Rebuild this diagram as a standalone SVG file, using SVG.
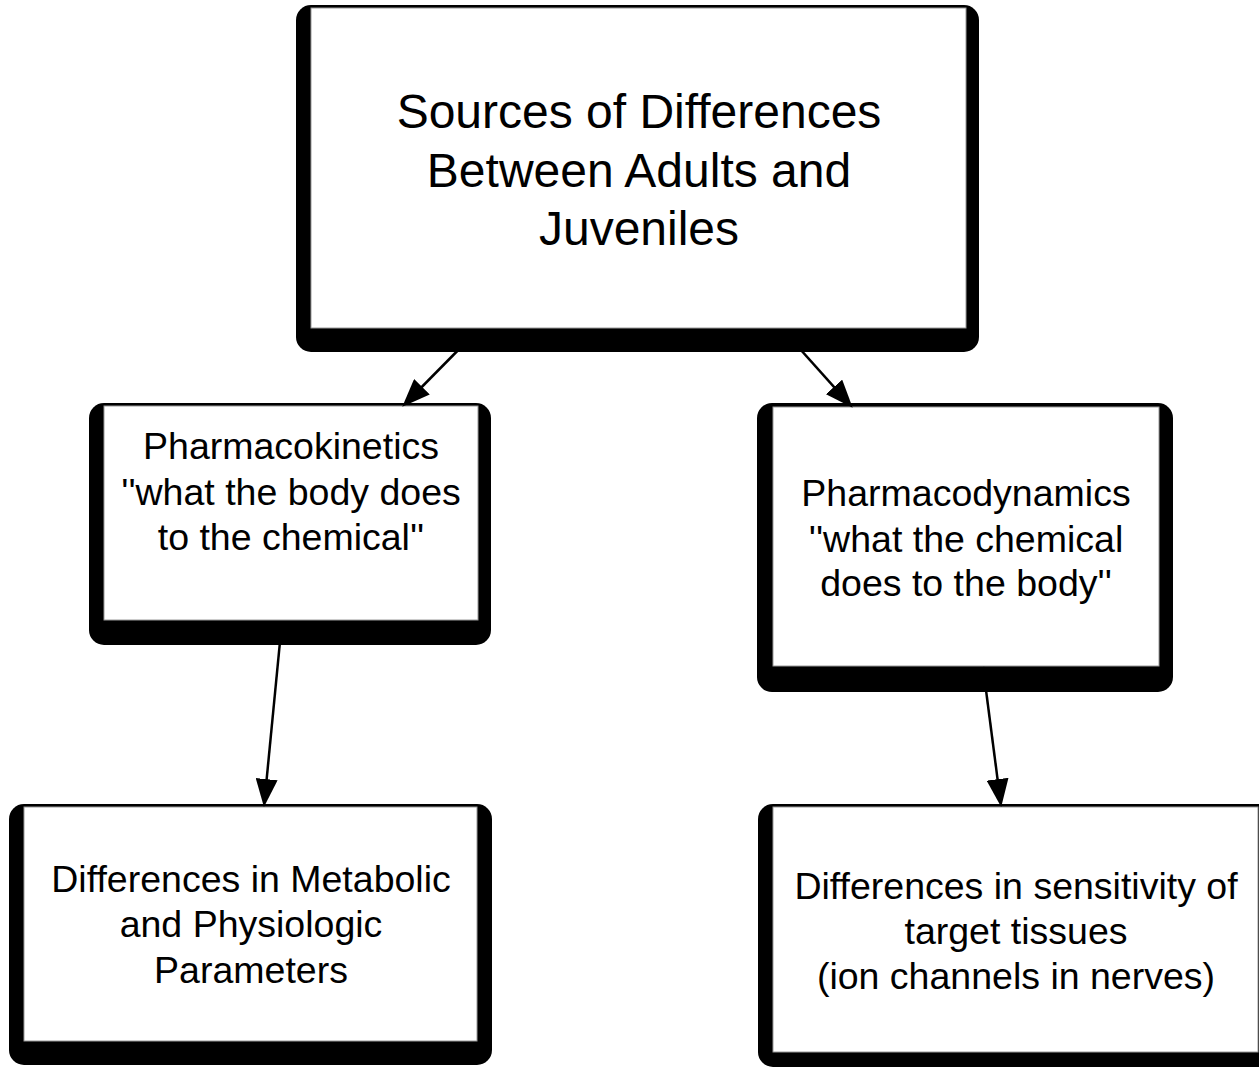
<svg xmlns="http://www.w3.org/2000/svg" width="1259" height="1069" viewBox="0 0 1259 1069">
<style>
.sh{fill:#000}
.bx{fill:#fff;stroke:#999;stroke-width:1}
.t{font-family:"Liberation Sans",Arial,sans-serif;fill:#000;text-anchor:middle}
.t1{font-size:48px}
.t2{font-size:37.5px}
.cn{stroke:#000;stroke-width:2.5;fill:none;marker-end:url(#ah)}
</style>
<defs>
<marker id="ah" markerUnits="userSpaceOnUse" markerWidth="30" markerHeight="22" refX="15" refY="11" orient="auto" viewBox="0 0 30 22">
<path d="M0,0 L28,11 L0,22 z" fill="#000"/>
</marker>
</defs>
<rect width="1259" height="1069" fill="#fff"/>
<g id="node-sources">
<rect class="sh" x="296" y="5" width="683" height="347" rx="15"/>
<rect class="bx" x="311" y="8" width="655" height="320"/>
<text class="t t1" x="639" y="128">Sources of Differences</text>
<text class="t t1" x="639" y="187">Between Adults and</text>
<text class="t t1" x="639" y="245">Juveniles</text>
</g>
<g id="node-pharmacokinetics">
<rect class="sh" x="89" y="403" width="402" height="242" rx="15"/>
<rect class="bx" x="104" y="406" width="374" height="214"/>
<text class="t t2" x="291" y="459">Pharmacokinetics</text>
<text class="t t2" x="291" y="505">''what the body does</text>
<text class="t t2" x="291" y="550">to the chemical''</text>
</g>
<g id="node-pharmacodynamics">
<rect class="sh" x="757" y="403" width="416" height="289" rx="15"/>
<rect class="bx" x="773" y="407" width="386" height="259"/>
<text class="t t2" x="966" y="506">Pharmacodynamics</text>
<text class="t t2" x="966" y="552">''what the chemical</text>
<text class="t t2" x="966" y="596">does to the body''</text>
</g>
<g id="node-metabolic">
<rect class="sh" x="9" y="804" width="483" height="261" rx="15"/>
<rect class="bx" x="24" y="807" width="453" height="234"/>
<text class="t t2" x="251" y="892">Differences in Metabolic</text>
<text class="t t2" x="251" y="937">and Physiologic</text>
<text class="t t2" x="251" y="983">Parameters</text>
</g>
<g id="node-sensitivity">
<rect class="sh" x="758" y="804" width="515" height="263" rx="15"/>
<rect class="bx" x="773" y="807" width="485" height="245"/>
<text class="t t2" x="1016" y="899">Differences in sensitivity of</text>
<text class="t t2" x="1016" y="944">target tissues</text>
<text class="t t2" x="1016" y="989">(ion channels in nerves)</text>
</g>
<g id="connectors">
<line class="cn" x1="478" y1="330" x2="411.4" y2="397.5"/>
<line class="cn" x1="783" y1="330" x2="844" y2="398.1"/>
<line class="cn" x1="282" y1="621" x2="265.2" y2="794.1"/>
<line class="cn" x1="983" y1="667" x2="999.5" y2="794.1"/>
</g>
</svg>
